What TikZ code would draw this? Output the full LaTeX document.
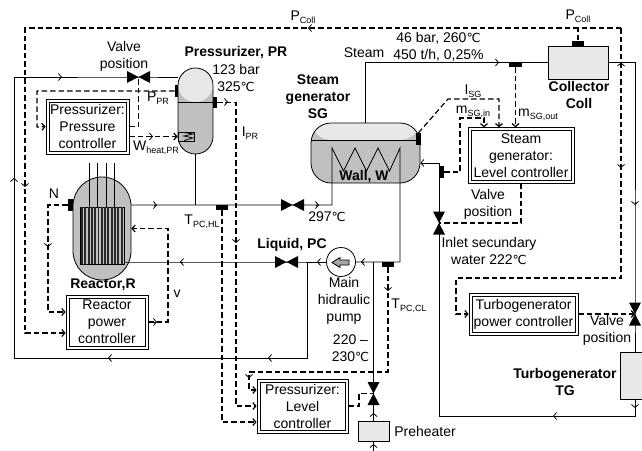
\documentclass[tikz,border=0pt]{standalone}
\usepackage{fontspec}
\setmainfont{Liberation Sans}
\newfontfamily\symfont{DejaVu Sans}
\usetikzlibrary{arrows.meta}

\definecolor{steamgray}{HTML}{E8E8E8}
\definecolor{watergray}{HTML}{C0C0C0}
\definecolor{rodgray}{HTML}{2A2A2A}

\newcommand{\subtxt}[2]{#1\raisebox{-3pt}{\fontsize{9}{9}\selectfont #2}}
\newcommand{\degc}{{\symfont\fontsize{12.5}{17}\selectfont ℃}}

\tikzset{
	>={Straight Barb[length=3pt,width=7pt]},
	every node/.style={inner sep=0pt, font=\fontsize{14}{17}\selectfont, align=center},
	pipe/.style={line width=0.8pt},
	signal/.style={line width=1.2pt, dash pattern=on 5.5pt off 3pt},
	ctrl/.style={draw, line width=0.8pt},
	vessel/.style n args={4}{draw, line width=0.8pt, fill=watergray, minimum width=#1, minimum height=#2, rounded corners=#3,
		path picture={\fill[steamgray] (path picture bounding box.north west) rectangle ([yshift=-#4]path picture bounding box.north east);
			\draw[line width=0.8pt] ([yshift=-#4]path picture bounding box.north west) -- ([yshift=-#4]path picture bounding box.north east);}},
	tank/.style={draw, line width=0.8pt, fill=steamgray},
	sensor/.style 2 args={fill=black, minimum width=#1, minimum height=#2},
	heading/.style={font=\fontsize{14}{17}\selectfont\bfseries}
}

\begin{document}
\begin{tikzpicture}[x=1pt,y=-1pt]
	\useasboundingbox (0,0) rectangle (642,450);

	% Recipientes
	\node (PR) [vessel={35pt}{86pt}{17.4pt}{34pt}] at (195.5,111) {};
	\node (SG) [vessel={109pt}{60pt}{20pt}{17pt}] at (365.5,153) {};
	\node (R) [draw, line width=0.8pt, fill=watergray, minimum width=58pt, minimum height=103pt, rounded corners=28.9pt] at (102,228.5) {};
	\node (coll) [tank, minimum width=60pt, minimum height=33pt] at (578,62.5) {};
	\node (TG) [tank, minimum width=30pt, minimum height=47pt] at (635,375.5) {};
	\node (pre) [tank, minimum width=31pt, minimum height=20pt] at (373.5,431) {};

	% Nucleo y barras
	\node (core) [draw, line width=0.8pt, fill=watergray, minimum width=44pt, minimum height=57pt] at (102,235.5) {};
	\foreach \x in {82,85.3,...,123}
		\draw[rodgray, line width=1.9pt] (\x,207) -- (\x,264);
	\foreach \x in {89,97,106,114}
		\draw[pipe] (\x,163) -- (\x,207);

	% Calentador
	\node (heat) [draw, line width=0.8pt, fill=watergray, minimum width=16pt, minimum height=9pt] at (186,136.5) {};
	\draw[pipe] (184,132.5) -- (193,134) -- (184,136) -- (193,138) -- (184,140.5);

	% Valvulas
	\foreach \n/\x/\y in {vPR/138.5/77, vHot/292.5/205, vCold/286.5/262}{
		\coordinate (\n) at (\x,\y);
		\fill (\n) ++(-11.5,-6) -- ++(0,12) -- ++(23,-12) -- ++(0,12) -- cycle;
	}
	\foreach \n/\x/\y in {vFeed/439/223, vTG/635/314, vLevel/373.5/393.5}{
		\coordinate (\n) at (\x,\y);
		\fill (\n) ++(-6,-11.5) -- ++(12,0) -- ++(-12,23) -- ++(12,0) -- cycle;
	}

	% Bomba
	\node (pump) [circle, draw, line width=0.8pt, fill=white, minimum size=29pt] at (341,262) {};
	\draw[line width=0.8pt, fill=gray!70] (332,262.5) -- (340,257.5) -- (340,260) -- (349,260) -- (349,265) -- (340,265) -- (340,267.5) -- cycle;

	% Controladores
	\node (ctrlP) [ctrl, minimum width=83pt, minimum height=55pt] at (87.5,126.5) {Pressurizer:\\Pressure\\controller};
	\node (ctrlR) [ctrl, minimum width=82pt, minimum height=54pt] at (107,322) {Reactor\\power\\controller};
	\node (ctrlL) [ctrl, minimum width=91pt, minimum height=54pt] at (302.5,406) {Pressurizer:\\Level\\controller};
	\node (ctrlS) [ctrl, minimum width=106pt, minimum height=55.5pt] at (521,155.5) {Steam\\generator:\\Level controller};
	\node (ctrlT) [ctrl, minimum width=109pt, minimum height=42pt] at (523.5,314) {Turbogenerator\\power controller};
	\foreach \n in {ctrlP,ctrlR,ctrlL,ctrlS,ctrlT}
		\draw[line width=0.8pt] ([xshift=3.5pt,yshift=3.5pt]\n.south west) rectangle ([xshift=-3.5pt,yshift=-3.5pt]\n.north east);

	% Sensores
	\node (sPRp) [sensor={3.5pt}{12pt}] at (176.5,91) {};
	\node (sPRl) [sensor={4pt}{11pt}] at (215,102.5) {};
	\node (sHot) [sensor={12pt}{5pt}] at (222,207.5) {};
	\node (sN) [sensor={5pt}{12pt}] at (70.5,205) {};
	\node (sCold) [sensor={12pt}{5pt}] at (388,264.5) {};
	\node (sSGl) [sensor={5pt}{12pt}] at (418.5,139) {};
	\node (sFeed) [sensor={5pt}{12pt}] at (441.5,172) {};
	\node (sSteam) [sensor={13pt}{5pt}] at (515.5,64.5) {};
	\node (sColl) [sensor={12pt}{5pt}] at (578,43) {};

	% Circuito primario
	\draw[pipe] (PR.west |- vPR) -- (vPR) -- (14,77) -- (14,358) -- (307,358) -- (307,262);
	\draw[pipe] (PR.south) -- (PR.south |- vHot);
	\draw[pipe] (R.east |- vHot) -- (vHot) -- (332,205) -- (332,148) -- (343.5,171) -- (355,148) -- (366.5,171) -- (378,148) -- (389.5,171) -- (400,148) -- (400,262) -- (pump.east);
	\draw[pipe] (core.east |- vCold) -- (vCold) -- (pump.west);
	\draw[pipe] (373.5,262) -- (vLevel) -- (pre.north);
	\draw[pipe] (pre.south) -- (373.5,452);

	% Circuito secundario
	\draw[pipe] (SG.north) -- (SG.north |- coll.west) -- (coll.west);
	\draw[pipe] (coll.east) -- (635,62.5) -- (vTG) -- (TG.north);
	\draw[pipe] (TG.south) -- (635,416) -- (439,416) -- (vFeed);
	\draw[pipe,->] (vFeed) -- (439,163) -- (SG.east |- 439,163);

	% Marcas de flujo
	\foreach \x/\y/\dx/\dy in {62/77/1/0, 14/178/0/-1, 108/358/-1/0, 268/358/-1/0, 157/205/1/0, 319/205/1/0, 180/262/-1/0, 317/262/-1/0, 361/262/-1/0, 499/62.5/1/0, 621/62.5/0/-1, 635/205/0/1, 635/408/0/1, 553/416/-1/0, 373.5/413/0/-1, 373.5/444/0/-1}
		\draw[pipe,->] (\x-3*\dx,\y-3*\dy) -- (\x,\y);
	\foreach \x/\y/\dx/\dy in {308/28/-1/0, 25/187/0/1, 621/168/0/1, 48/247/0/1, 236/243/0/1, 228/102/1/0, 388/291/0/1, 249/378/0/1, 157/322/1/0, 153/136.5/1/0}
		\draw[pipe,->] (\x-3*\dx,\y-3*\dy) -- (\x,\y);

	% Senales
	\draw[signal] (sColl.north) -- (578,28);
	\draw[signal,->] (621,28) -- (25,28) -- (25,333) -- (ctrlR.west |- 25,333);
	\draw[signal,->] (621,28) -- (621,278) -- (456,278) -- (456,314) -- (ctrlT.west);
	\draw[signal,->] (ctrlT.east) -- (vTG);
	\draw[signal,->] (sN.west) -- (48,205) -- (48,312) -- (ctrlR.west |- 48,312);
	\draw[signal,->] (ctrlR.east) -- (168,322) -- (168,228.5) -- (R.east);
	\draw[signal] (ctrlP.east) -- (vPR |- ctrlP.east) -- (vPR);
	\draw[signal,->] (sPRp.west) -- (37,91) -- (37,127) -- (ctrlP.west);
	\draw[signal,->] (ctrlP.east |- heat.west) -- (heat.west);
	\draw[signal,->] (sPRl.east) -- (236,102.5) -- (236,406) -- (ctrlL.west);
	\draw[signal,->] (sHot.south) -- (222,422) -- (ctrlL.west |- 222,422);
	\draw[signal,->] (sCold.south) -- (388,372) -- (249,372) -- (249,390) -- (ctrlL.west |- 249,390);
	\draw[signal] (ctrlL.east) -- (359,406) -- (359,393.5) -- (vLevel);
	\draw[signal,->] (sSteam.south) -- (sSteam.south |- ctrlS.north);
	\draw[signal,->] (sSGl.north) -- (448,99) -- (499,99) -- (499,0 |- ctrlS.north);
	\draw[signal,->] (sFeed.east) -- (460,172) -- (460,118) -- (484,118) -- (484,0 |- ctrlS.north);
	\draw[signal] (ctrlS.south) -- (521,223) -- (vFeed);

	% Textos
	\node (txtCollA) at (303,17) {\subtxt{P}{Coll}};
	\node (txtCollB) at (578,16) {\subtxt{P}{Coll}};
	\node (txtValveA) at (124,56) {Valve\\position};
	\node (txtPR) [heading] at (236,53) {Pressurizer, PR};
	\node (txtPRdata) at (236,78.5) {123 bar\\325\degc};
	\node (txtPPR) at (158,98) {\subtxt{P}{PR}};
	\node (txtIPR) at (250,133) {\subtxt{I}{PR}};
	\node (txtW) at (156,148) {\subtxt{W}{heat,PR}};
	\node (txtSG) [heading] at (318,96.5) {Steam\\generator\\SG};
	\node (txtSteam) at (364,53) {Steam};
	\node (txtData) at (438.5,46.5) {46 bar, 260\degc\\450 t/h, 0,25\%};
	\node (txtColl) [heading] at (579,94.5) {Collector\\Coll};
	\node (txtISG) at (473,91) {\subtxt{I}{SG}};
	\node (txtMin) at (473,112) {\subtxt{m}{SG,in}};
	\node (txtMout) at (538,115) {\subtxt{m}{SG,out}};
	\node (txtWall) [heading] at (364,177) {Wall, W};
	\node (txtValveB) at (488,204.5) {Valve\\position};
	\node (txtInlet) at (489,251.5) {Inlet secundary\\water 222\degc};
	\node (txtN) at (54,194) {N};
	\node (txtHL) at (202,222) {\subtxt{T}{PC,HL}};
	\node (txtT297) at (327,217) {297\degc};
	\node (txtLiquid) [heading] at (292,245) {Liquid, PC};
	\node (txtReactor) [heading] at (103,285) {Reactor,R};
	\node (txtV) at (177,294) {v};
	\node (txtPump) at (344,301) {Main\\hidraulic\\pump};
	\node (txtRange) at (350.5,348.5) {220 –\\230\degc};
	\node (txtCL) at (409,306) {\subtxt{T}{PC,CL}};
	\node (txtValveC) at (607,330.5) {Valve\\position};
	\node (txtTG) [heading] at (565,381.5) {Turbogenerator\\TG};
	\node (txtPre) at (425,431) {Preheater};
\end{tikzpicture}
\end{document}
